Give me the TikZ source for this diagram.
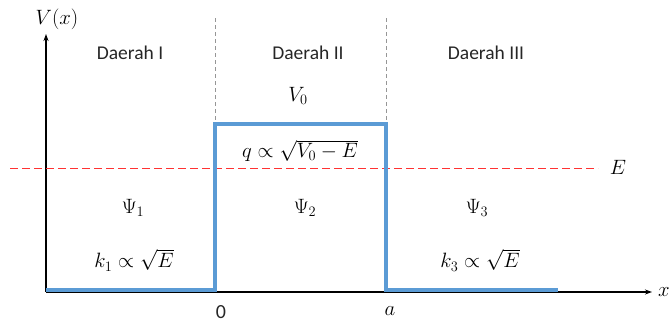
\documentclass[tikz,border=0pt]{standalone}
\usepackage[no-math]{fontspec}
\setmainfont{Carlito}
\usetikzlibrary{arrows.meta}
\definecolor{potblue}{RGB}{91,155,213}
\definecolor{ered}{RGB}{255,50,50}
\definecolor{divgray}{RGB}{150,150,150}
\begin{document}
\begin{tikzpicture}[x=1pt,y=-1pt,
  lbl/.style={inner sep=0pt,font=\fontsize{19.5}{23}\selectfont,text=black!85},
  mth/.style={inner sep=0pt,font=\fontsize{20.5}{24}\selectfont},
  axisline/.style={line width=1.2pt,-{Stealth[length=7pt,width=5pt]}},
  pot/.style={line width=3.6pt,potblue,line join=miter},
  divider/.style={divgray,line width=0.8pt,dash pattern=on 4pt off 3pt},
  eline/.style={ered,line width=1pt,dash pattern=on 8pt off 4pt}]
\useasboundingbox (0,0) rectangle (670,322);
% axes
\coordinate (O) at (46,292);
\coordinate (ytop) at (46,34);
\coordinate (xend) at (652,292);
\draw[axisline] (O) -- (ytop);
\draw[axisline] (O) -- (xend);
\node[mth,anchor=west] (xl) at (658,292) {$x$};
\node[mth] (vx) at (57,19) {$V(x)$};
% dividers
\coordinate (d1t) at (215,18);
\coordinate (d1b) at (215,124);
\coordinate (d2t) at (386,18);
\coordinate (d2b) at (386,124);
\draw[divider] (d1t) -- (d1b);
\draw[divider] (d2t) -- (d2b);
% energy line
\coordinate (e1) at (10,168);
\coordinate (e2) at (598,168);
\draw[eline] (e1) -- (e2);
\node[mth] (E) at (618,167) {$E$};
% potential
\coordinate (p0) at (46,290);
\coordinate (p1) at (215,290);
\coordinate (p2) at (215,124);
\coordinate (p3) at (386,124);
\coordinate (p4) at (386,290);
\coordinate (p5) at (558,290);
\draw[pot] (p0) -- (p1) -- (p2) -- (p3) -- (p4) -- (p5);
% labels
\node[lbl] (r1) at (130,53) {Daerah I};
\node[lbl] (r2) at (308,53) {Daerah II};
\node[lbl] (r3) at (486,53) {Daerah III};
\node[mth] (v0) at (298,96) {$V_0$};
\node[mth] (q) at (300,151) {$q \propto \sqrt{V_0 - E}$};
\node[mth] (psi1) at (133,208) {$\Psi_1$};
\node[mth] (psi2) at (305,208) {$\Psi_2$};
\node[mth] (psi3) at (477,208) {$\Psi_3$};
\node[mth] (k1) at (134,260) {$k_1 \propto \sqrt{E}$};
\node[mth] (k3) at (480,260) {$k_3 \propto \sqrt{E}$};
\node[lbl,font=\fontsize{20}{23}\selectfont] (zero) at (221,312) {0};
\node[mth] (a) at (390,311) {$a$};
\end{tikzpicture}
\end{document}
